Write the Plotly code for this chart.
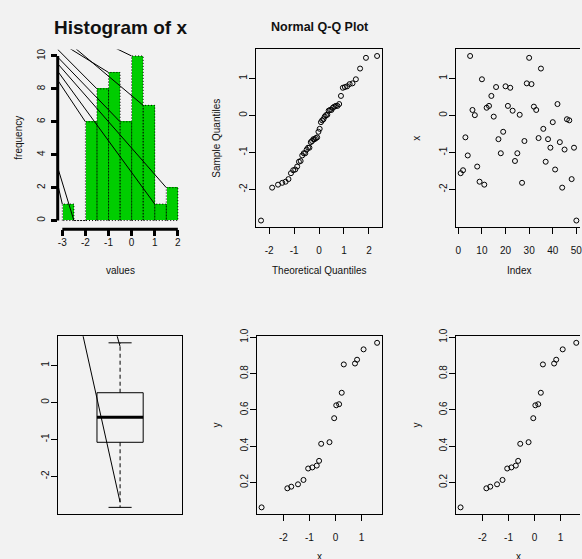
import numpy as np
import plotly.graph_objects as go
from statistics import NormalDist

# ---------------- data ----------------
x_values = [-1.56, -1.48, -0.59, -1.08, 1.61, 0.15, 0.01, -1.38, -1.79, 0.98,
            -1.87, 0.21, 0.26, 0.53, -0.03, 0.77, -0.64, -1.02, -0.44, 0.79,
            0.26, 0.75, 0.13, -1.23, -1.02, 0.02, -1.82, -0.69, 0.87, 1.56,
            0.85, 0.24, 0.15, -0.61, 1.27, -0.36, -1.25, -0.64, -0.87, -0.18,
            -1.46, 0.31, -0.72, -1.95, -0.92, -0.10, -0.13, -1.72, -0.87, -2.84]
index_values = list(range(1, len(x_values) + 1))

hist_breaks = [-3.0, -2.5, -2.0, -1.5, -1.0, -0.5, 0.0, 0.5, 1.0, 1.5, 2.0]
hist_xticks = [-3, -2, -1, 0, 1, 2]
hist_yticks = [0, 2, 4, 6, 8, 10]
sample_ticks = [-2, -1, 0, 1]
theo_ticks = [-2, -1, 0, 1, 2]
index_ticks = [0, 10, 20, 30, 40, 50]

sub_x = [-2.84, -1.85, -1.70, -1.44, -1.23, -1.05, -0.89, -0.72, -0.63, -0.55,
         -0.23, -0.05, 0.03, 0.14, 0.24, 0.32, 0.75, 0.83, 1.08, 1.60]
sub_y = [0.063, 0.168, 0.177, 0.190, 0.214, 0.277, 0.283, 0.293, 0.319, 0.413,
         0.422, 0.554, 0.625, 0.631, 0.694, 0.850, 0.855, 0.876, 0.933, 0.969]
sub_xticks = [-2, -1, 0, 1]
sub_yticks = [0.2, 0.4, 0.6, 0.8, 1.0]

# stray segments drawn over the histogram (start at the frame edge -> end, data units)
hist_seg_x0 = [-0.62, -2.38, -2.61, -3.20, -3.20, -3.20, -3.20, -3.20, -3.20, -3.20]
hist_seg_y0 = [10.42, 10.40, 10.40, 10.40, 9.93, 9.53, 9.07, 8.53, 3.22, 2.20]
hist_seg_x1 = [0.0, 0.5, -1.0, -1.5, -0.5, 1.5, 1.0, -2.0, -2.5, -3.0]
hist_seg_y1 = [10, 7, 9, 8, 6, 2, 1, 6, 0, 1]

# stray segments drawn over the boxplot
box_seg_x0 = [0.68, 0.975]
box_seg_y0 = [1.79, 1.79]
box_seg_x1 = [1.0, 1.0]
box_seg_y1 = [-2.70, 1.51]

# ---------------- helpers ----------------
W, H = 582, 559
BG = "#f2f2f2"
FONT = "Liberation Sans, Arial, Helvetica, sans-serif"
TXT = "#111111"


def rrange(lo, hi):
    d = (hi - lo) * 0.04
    return [lo - d, hi + d]


def xdom(l, r, rng):
    # clip to the page, shrinking the range accordingly
    if r > W:
        rng = [rng[0], rng[0] + (rng[1] - rng[0]) * (W - l) / (r - l)]
        r = W
    return [l / W, r / W], rng


def ydom(t, b):
    return [1 - b / H, 1 - t / H]


def fivenum(v):
    v = sorted(v)
    n = len(v)
    n4 = np.floor((n + 3) / 2) / 2
    d = [1, n4, (n + 1) / 2, n + 1 - n4, n]
    return [0.5 * (v[int(np.floor(k - 1))] + v[int(np.ceil(k - 1))]) for k in d]


def seg_xy(x0s, y0s, x1s, y1s, ext=0.15):
    xs, ys = [], []
    for a0, b0, a1, b1 in zip(x0s, y0s, x1s, y1s):
        # extend the start a little beyond the frame; clipping hides it
        xs += [a0 - (a1 - a0) * ext, a1, None]
        ys += [b0 - (b1 - b0) * ext, b1, None]
    return xs, ys


# ---------------- derived ----------------
counts = []
for i in range(len(hist_breaks) - 1):
    a, b = hist_breaks[i], hist_breaks[i + 1]
    counts.append(sum(1 for v in x_values if (a < v <= b) or (i == 0 and v == a)))
mids = [(hist_breaks[i] + hist_breaks[i + 1]) / 2 for i in range(len(counts))]
widths = [hist_breaks[i + 1] - hist_breaks[i] for i in range(len(counts))]

srt = sorted(x_values)
n = len(srt)
theo = [NormalDist().inv_cdf((i + 1 - 0.5) / n) for i in range(n)]

y_rng = rrange(min(x_values), max(x_values))

fig = go.Figure()
NOH = dict(showlegend=False, hoverinfo="skip")

# ---------- panel 1: histogram ----------
fig.add_trace(go.Bar(x=mids, y=counts, width=widths, marker=dict(color="#00CD00", line=dict(width=0)),
                     xaxis="x", yaxis="y", **NOH))
ox, oy = [], []
for i, c in enumerate(counts):
    a, b = hist_breaks[i], hist_breaks[i + 1]
    ox += [a, a, b, b, a, None]
    oy += [0, c, c, 0, 0, None]
fig.add_trace(go.Scatter(x=ox, y=oy, mode="lines", line=dict(color="black", width=1, dash="1px,2px"),
                         xaxis="x", yaxis="y", **NOH))
sx, sy = seg_xy(hist_seg_x0, hist_seg_y0, hist_seg_x1, hist_seg_y1)
fig.add_trace(go.Scatter(x=sx, y=sy, mode="lines", line=dict(color="black", width=1),
                         xaxis="x", yaxis="y", **NOH))

# ---------- panel 2: QQ ----------
MK = dict(symbol="circle-open", size=5, color="black", line=dict(width=1))
fig.add_trace(go.Scatter(x=theo, y=srt, mode="markers", marker=MK, xaxis="x2", yaxis="y2", **NOH))

# ---------- panel 3: index plot ----------
fig.add_trace(go.Scatter(x=index_values, y=x_values, mode="markers", marker=MK, xaxis="x3", yaxis="y3", **NOH))

# ---------- panel 4: boxplot ----------
mn, q1, med, q3, mx = fivenum(x_values)
iqr = q3 - q1
lo_w = min(v for v in x_values if v >= q1 - 1.5 * iqr)
hi_w = max(v for v in x_values if v <= q3 + 1.5 * iqr)
bw, cw = 0.2, 0.1
fig.add_trace(go.Scatter(x=[1, 1, None, 1, 1], y=[q3, hi_w, None, q1, lo_w], mode="lines",
                         line=dict(color="black", width=1, dash="4px,3px"), xaxis="x4", yaxis="y4", **NOH))
fig.add_trace(go.Scatter(x=[1 - bw, 1 + bw, 1 + bw, 1 - bw, 1 - bw], y=[q1, q1, q3, q3, q1], mode="lines",
                         line=dict(color="black", width=1), xaxis="x4", yaxis="y4", **NOH))
fig.add_trace(go.Scatter(x=[1 - bw, 1 + bw], y=[med, med], mode="lines",
                         line=dict(color="black", width=3), xaxis="x4", yaxis="y4", **NOH))
fig.add_trace(go.Scatter(x=[1 - cw, 1 + cw, None, 1 - cw, 1 + cw], y=[hi_w, hi_w, None, lo_w, lo_w], mode="lines",
                         line=dict(color="black", width=1), xaxis="x4", yaxis="y4", **NOH))
bx, by = seg_xy(box_seg_x0, box_seg_y0, box_seg_x1, box_seg_y1, ext=0.05)
fig.add_trace(go.Scatter(x=bx, y=by, mode="lines", line=dict(color="black", width=1),
                         xaxis="x4", yaxis="y4", **NOH))

# ---------- panels 5, 6: y vs x ----------
for ax in ("5", "6"):
    fig.add_trace(go.Scatter(x=sub_x, y=sub_y, mode="markers", marker=MK,
                             xaxis="x" + ax, yaxis="y" + ax, **NOH))

# ---------------- axes ----------------
tickfont = dict(family=FONT, size=10, color=TXT)


def boxed_x(dom, rng, anchor, ticks, standoff=8):
    return dict(domain=dom, range=rng, anchor=anchor, showline=True, mirror=True, linecolor="black",
                linewidth=1, ticks="outside", ticklen=6, tickwidth=1, tickcolor="black",
                tickvals=ticks, ticktext=["%g" % t for t in ticks], tickfont=tickfont,
                showgrid=False, zeroline=False, ticklabelstandoff=standoff,
                ticklabeloverflow="allow", fixedrange=True)


def boxed_y(dom, rng, anchor, ticks, text=None, standoff=-2, mirror=True):
    return dict(domain=dom, range=rng, anchor=anchor, showline=True, mirror=mirror, linecolor="black",
                linewidth=1, ticks="outside", ticklen=6, tickwidth=1, tickcolor="black",
                tickvals=ticks, ticktext=text or ["%g" % t for t in ticks], tickfont=tickfont,
                tickangle=-90, showgrid=False, zeroline=False, ticklabelstandoff=standoff,
                ticklabeloverflow="allow", fixedrange=True)


R1T, R1B = 42, 222.3
R2T, R2B = 333, 513.3

# hist
hd, hr = xdom(57, 182.4, rrange(hist_breaks[0], hist_breaks[-1]))
hy = ydom(R1T, R1B)
XAX_Y = 1 - 224.5 / H
fig.update_layout(
    xaxis=dict(domain=hd, range=hr, anchor="free", position=XAX_Y, showline=False,
               ticks="outside", ticklen=6, tickwidth=3, tickcolor="black",
               tickvals=hist_xticks, ticktext=["%g" % t for t in hist_xticks], tickfont=tickfont,
               showgrid=False, zeroline=False, ticklabelstandoff=-2, ticklabeloverflow="allow", fixedrange=True),
    yaxis=dict(domain=hy, range=rrange(0, 10), anchor="x", showline=False,
               ticks="outside", ticklen=6, tickwidth=3, tickcolor="black",
               tickvals=hist_yticks, ticktext=["%g" % t for t in hist_yticks], tickfont=tickfont,
               tickangle=-90, showgrid=False, zeroline=False, ticklabelstandoff=2,
               ticklabeloverflow="allow", fixedrange=True),
)
fig.add_shape(type="line", xref="paper", yref="y", x0=hd[0], x1=hd[0], y0=hist_yticks[0], y1=hist_yticks[-1],
              line=dict(color="black", width=3))
fig.add_shape(type="line", xref="x", yref="paper", x0=hist_xticks[0], x1=hist_xticks[-1],
              y0=XAX_Y, y1=XAX_Y, line=dict(color="black", width=3))

# QQ
d2, r2 = xdom(256.7, 382.7, rrange(theo[0], theo[-1]))
fig.update_layout(xaxis2=boxed_x(d2, r2, "y2", theo_ticks),
                  yaxis2=boxed_y(ydom(R1T, R1B), y_rng, "x2", sample_ticks))
# index (right side of the frame falls off the page)
d3, r3 = xdom(457.4, 583.0, rrange(1, n))
fig.update_layout(xaxis3=boxed_x(d3, r3, "y3", index_ticks),
                  yaxis3=boxed_y(ydom(R1T, R1B), y_rng, "x3", sample_ticks, mirror=False))
# boxplot
d4, r4 = xdom(57, 182.4, rrange(0.5, 1.5))
fig.update_layout(xaxis4=dict(domain=d4, range=r4, anchor="y4", showline=True, mirror=True, linecolor="black",
                              linewidth=1, ticks="", showticklabels=False, showgrid=False, zeroline=False,
                              fixedrange=True),
                  yaxis4=boxed_y(ydom(R2T, R2B), y_rng, "x4", sample_ticks))
# scatter y vs x
sxr = rrange(min(sub_x), max(sub_x))
syr = rrange(min(sub_y), max(sub_y))
ylabels = ["%.1f" % t for t in sub_yticks]
d5, r5 = xdom(257.3, 382.7, sxr)
fig.update_layout(xaxis5=boxed_x(d5, r5, "y5", sub_xticks),
                  yaxis5=boxed_y(ydom(R2T, R2B), syr, "x5", sub_yticks, ylabels))
d6, r6 = xdom(457.3, 582.9, sxr)
fig.update_layout(xaxis6=boxed_x(d6, r6, "y6", sub_xticks),
                  yaxis6=boxed_y(ydom(R2T, R2B), syr, "x6", sub_yticks, ylabels, mirror=False))


# ---------------- text ----------------
def ann(text, px, py, size=10, bold=False, angle=0):
    fig.add_annotation(text=("<b>%s</b>" % text) if bold else text, x=px / W, y=1 - py / H,
                       xref="paper", yref="paper", showarrow=False, textangle=angle,
                       xanchor="center", yanchor="middle",
                       font=dict(family=FONT, size=size, color=TXT))


ann("Histogram of x", 120, 20, size=19, bold=True)
ann("Normal Q-Q Plot", 321, 19.7, size=12.5, bold=True)
ann("frequency", 16.7, 132, angle=-90)
ann("values", 120, 266)
ann("Sample Quantiles", 216.7, 132, angle=-90)
ann("Theoretical Quantiles", 319.7, 266)
ann("x", 417.7, 132, angle=-90)
ann("Index", 520.2, 266)
ann("y", 216.7, 423, angle=-90)
ann("x", 320, 556)
ann("y", 417.7, 423, angle=-90)
ann("x", 520.2, 556)

fig.update_layout(width=W, height=H, margin=dict(l=0, r=0, t=0, b=0), paper_bgcolor=BG, plot_bgcolor=BG,
                  showlegend=False, bargap=0)

fig.write_html("out.html")
